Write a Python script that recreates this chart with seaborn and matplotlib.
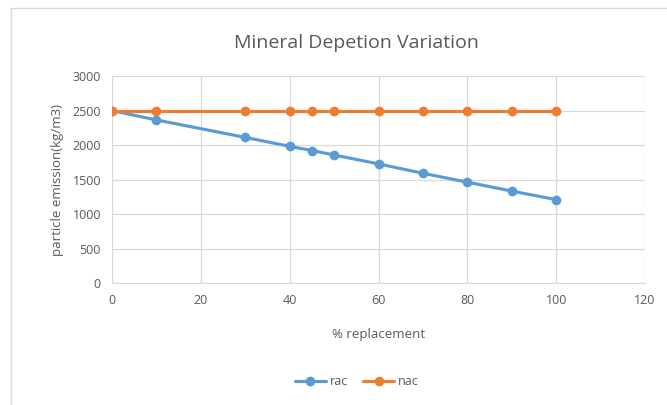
import matplotlib
matplotlib.use("Agg")
import matplotlib.pyplot as plt
import seaborn as sns
import pandas as pd
from matplotlib.patches import Rectangle
from matplotlib.lines import Line2D

x_vals = [0, 10, 30, 40, 45, 50, 60, 70, 80, 90, 100]
rac = [2500, 2365, 2112, 1982, 1922, 1857, 1728, 1592, 1463, 1334, 1210]
nac = [2500, 2500, 2500, 2500, 2500, 2500, 2500, 2500, 2500, 2500, 2500]
series_names = ["rac", "nac"]
colors = ["#5B9BD5", "#ED7D31"]

df = pd.concat([
    pd.DataFrame({"x": x_vals, "y": rac, "series": "rac"}),
    pd.DataFrame({"x": x_vals, "y": nac, "series": "nac"}),
])

sns.set_style("white")
plt.rcParams["font.family"] = ["Open Sans", "DejaVu Sans"]
txt = "#595959"

fig = plt.figure(figsize=(6.67, 4.05), dpi=100)
ax = fig.add_axes([0.168, 0.301, 0.799, 0.511])

sns.lineplot(data=df, x="x", y="y", hue="series", hue_order=series_names,
             palette=colors, marker="o", markersize=7, markeredgewidth=0,
             linewidth=2.25, ax=ax, legend=False, sort=False)

ax.set_xlim(0, 120)
ax.set_ylim(0, 3000)
ax.set_xticks(range(0, 121, 20))
ax.set_yticks(range(0, 3001, 500))
ax.grid(True, color="#D9D9D9", linewidth=0.9)
ax.set_axisbelow(True)
for s in ["top", "right"]:
    ax.spines[s].set_visible(False)
ax.spines["left"].set_visible(False)
ax.spines["bottom"].set_color("#D9D9D9")
ax.tick_params(axis="both", length=0, labelsize=9, colors=txt, pad=8)
ax.set_xlabel("% replacement", fontsize=9.5, color=txt, labelpad=15)
ax.set_ylabel("particle emission(kg/m3)", fontsize=9.5, color=txt, labelpad=6)

fig.text(0.535, 0.895, "Mineral Depetion Variation", ha="center", va="center",
         fontsize=14, color=txt)

handles = [Line2D([], [], color=c, marker="o", markersize=7, linewidth=2.25,
                  markeredgewidth=0) for c in colors]
fig.legend(handles, series_names, loc="center", bbox_to_anchor=(0.535, 0.058),
           ncol=2, frameon=False, fontsize=9, labelcolor=txt,
           handlelength=2.5, columnspacing=1.2, handletextpad=0.3)

fig.patches.append(Rectangle((0.016, -0.1), 1.2, 1.08, transform=fig.transFigure,
                             fill=False, edgecolor="#D9D9D9", linewidth=1))

fig.savefig("out.png", dpi=100, facecolor="white")
